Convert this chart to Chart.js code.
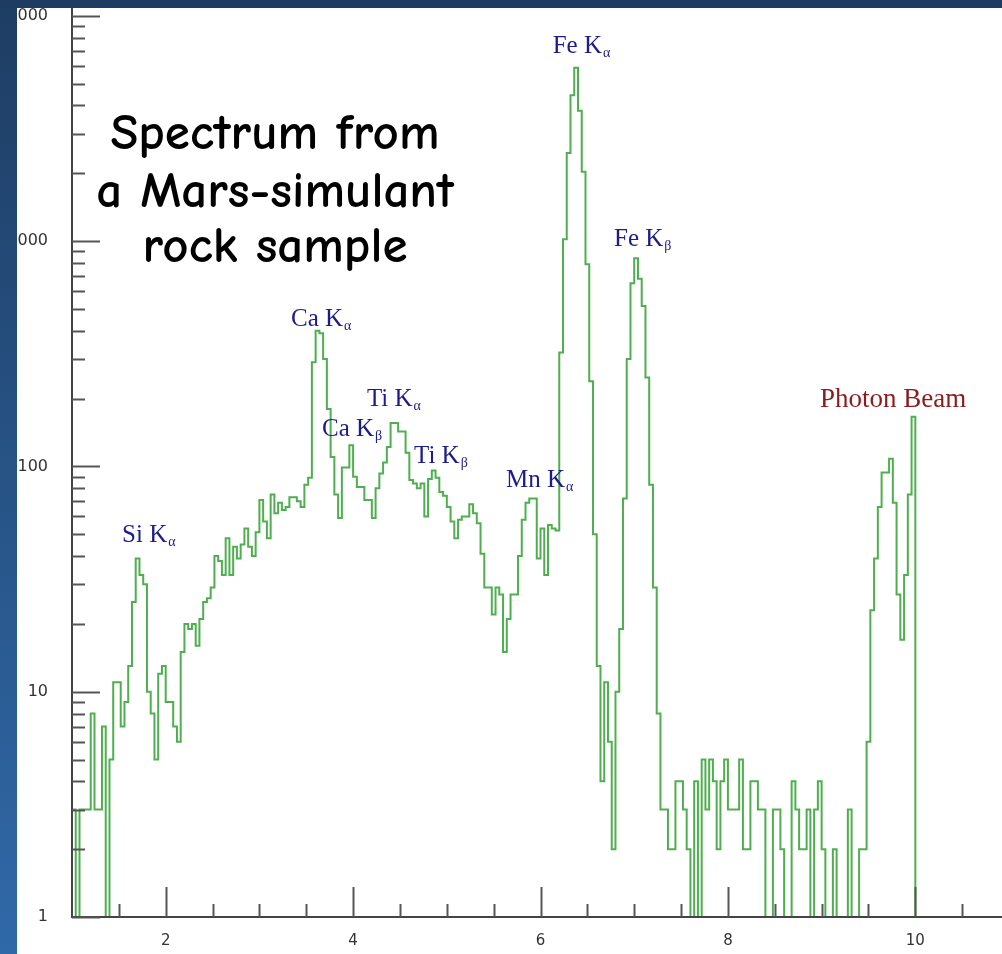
<!DOCTYPE html>
<html>
<head>
<meta charset="utf-8">
<script src="https://cdn.jsdelivr.net/npm/chart.js@4.4.1/dist/chart.umd.min.js"></script>
<style>
  html, body { margin: 0; padding: 0; background: #fff; }
  #wrap { position: relative; width: 1002px; height: 954px; }
</style>
</head>
<body>
<div id="wrap"><canvas id="spectrum" width="1002" height="954"></canvas></div>
<script>
// histogram: counts per 0.04 keV bin starting at 1.00 keV
const energyStart = 1.0;
const binWidth = 0.04;
const counts = [
  3, 0, 3, 3, 3, 8, 3, 3, 7, 0,
  5, 11, 11, 7, 9, 13, 25, 39, 33, 30,
  10, 8, 5, 12, 13, 9, 9, 7, 6, 15,
  20, 19, 20, 16, 21, 25, 26, 29, 40, 38,
  33, 48, 33, 44, 39, 45, 53, 44, 40, 51,
  71, 57, 48, 75, 62, 69, 64, 66, 73, 73,
  70, 66, 83, 89, 290, 400, 390, 300, 180, 110,
  75, 59, 99, 99, 124, 90, 81, 81, 71, 71,
  59, 80, 93, 104, 122, 156, 156, 143, 143, 115,
  87, 84, 80, 84, 60, 88, 96, 89, 77, 74,
  66, 57, 48, 58, 60, 60, 68, 62, 56, 41,
  29, 29, 22, 29, 27, 15, 21, 27, 27, 40,
  58, 69, 72, 72, 39, 53, 33, 55, 53, 52,
  320, 1020, 2460, 4440, 5880, 3790, 2030, 790, 239, 50,
  13, 4, 11, 6, 2, 10, 19, 72, 300, 650,
  840, 680, 515, 248, 83, 29, 8, 3, 3, 2,
  2, 4, 4, 3, 2, 0, 4, 0, 5, 3,
  5, 4, 2, 4, 5, 3, 3, 3, 5, 2,
  2, 4, 4, 3, 3, 0, 0, 3, 3, 2,
  0, 0, 4, 3, 2, 2, 3, 0, 3, 4,
  2, 0, 0, 2, 0, 0, 0, 3, 0, 0,
  2, 2, 6, 23, 39, 66, 94, 94, 108, 69,
  27, 17, 33, 75, 166
];

const xMajorTicks = [2, 4, 6, 8, 10];
const yDecades = [1, 10, 100, 1000, 10000];

// peak annotations, placed in data coordinates (keV, counts)
const peakNames = ['Fe K', 'Fe K', 'Ca K', 'Ti K', 'Ca K', 'Ti K', 'Mn K', 'Si K', 'Photon Beam'];
const peakSubs  = ['α', 'β', 'α', 'α', 'β', 'β', 'α', 'α', ''];
const peakX     = [6.13, 6.785, 3.337, 4.148, 3.668, 4.65, 5.632, 1.534, 8.983];
const peakY     = [7300, 1020, 449, 198, 146, 111, 87, 49.5, 198];

const titleLines = ['Spectrum from', 'a Mars-simulant', 'rock sample'];
const titleX = 3.166;
const titleY = [2958, 1635, 932];

const points = counts.map((c, i) => ({ x: energyStart + i * binWidth, y: c > 0 ? c : 0.5 }));
points.push({ x: energyStart + counts.length * binWidth, y: 0.5 });

const xTickValues = [];
for (let v = 1.0; v <= 10.5; v += 0.5) xTickValues.push(v);
const yTickValues = [];
yDecades.forEach(d => { for (let k = 1; k <= 9; k++) { if (d * k <= 10000) yTickValues.push(d * k); } });

const framePlugin = {
  id: 'frame',
  afterDatasetsDraw(chart) {
    const { ctx, chartArea: a, scales: { x, y } } = chart;
    ctx.save();
    // axis lines
    ctx.strokeStyle = '#444';
    ctx.lineWidth = 2;
    ctx.beginPath();
    ctx.moveTo(a.left, 0);
    ctx.lineTo(a.left, a.bottom);
    ctx.lineTo(chart.width, a.bottom);
    ctx.stroke();

    // tick marks pointing into the plot
    ctx.strokeStyle = '#555';
    y.ticks.forEach(t => {
      const py = Math.round(y.getPixelForValue(t.value)) + 0.5;
      const len = yDecades.includes(t.value) ? 28 : 13;
      ctx.beginPath();
      ctx.moveTo(a.left, py);
      ctx.lineTo(a.left + len, py);
      ctx.stroke();
    });
    x.ticks.forEach(t => {
      if (t.value === 1) return;
      const px = Math.round(x.getPixelForValue(t.value)) + 0.5;
      const len = xMajorTicks.includes(t.value) ? 30 : 13;
      ctx.beginPath();
      ctx.moveTo(px, a.bottom);
      ctx.lineTo(px, a.bottom - len);
      ctx.stroke();
    });

    // peak labels
    ctx.textBaseline = 'middle';
    ctx.textAlign = 'left';
    peakNames.forEach((name, i) => {
      const px = x.getPixelForValue(peakX[i]);
      const py = y.getPixelForValue(peakY[i]);
      ctx.fillStyle = peakSubs[i] ? '#1c1c8c' : '#8c1c1c';
      ctx.font = (peakSubs[i] ? '25px' : '27px') + ' "Liberation Serif", "DejaVu Serif", serif';
      ctx.fillText(name, px, py);
      if (peakSubs[i]) {
        const w = ctx.measureText(name).width;
        ctx.font = '14px "Liberation Serif", "DejaVu Serif", serif';
        ctx.fillText(peakSubs[i], px + w + 1, py + 7);
      }
    });

    // caption
    ctx.fillStyle = '#000';
    ctx.textAlign = 'center';
    ctx.font = 'bold 51px "Comic Sans MS", "Comic Neue", "DejaVu Sans", sans-serif';
    titleLines.forEach((line, i) => {
      ctx.fillText(line, x.getPixelForValue(titleX), y.getPixelForValue(titleY[i]));
    });
    ctx.restore();
  },
  afterDraw(chart) {
    const ctx = chart.ctx;
    ctx.save();
    const g = ctx.createLinearGradient(0, 0, 0, chart.height);
    g.addColorStop(0, '#1e3d63');
    g.addColorStop(1, '#3069a8');
    ctx.fillStyle = g;
    ctx.fillRect(0, 0, 17, chart.height);
    ctx.fillStyle = '#1e3c62';
    ctx.fillRect(0, 0, chart.width, 8);
    ctx.restore();
  }
};

new Chart(document.getElementById('spectrum').getContext('2d'), {
  type: 'line',
  data: {
    datasets: [{
      data: points,
      stepped: true,
      borderColor: 'rgba(60, 165, 60, 0.9)',
      borderWidth: 2,
      pointRadius: 0,
      fill: false
    }]
  },
  options: {
    responsive: false,
    animation: false,
    devicePixelRatio: 1,
    layout: { padding: 0 },
    plugins: { legend: { display: false }, tooltip: { enabled: false } },
    scales: {
      x: {
        type: 'linear',
        min: 1,
        max: 10.925,
        grid: { display: false, drawTicks: false },
        border: { display: false },
        afterBuildTicks: s => { s.ticks = xTickValues.map(v => ({ value: v })); },
        afterFit: s => { s.height = 37; s.paddingLeft = 0; s.paddingRight = 0; },
        ticks: {
          autoSkip: false,
          maxRotation: 0,
          padding: 15,
          color: '#333',
          font: { family: 'DejaVu Sans', size: 15 },
          callback: v => xMajorTicks.includes(v) ? String(v) : ''
        }
      },
      y: {
        type: 'logarithmic',
        min: 1,
        max: 10830,
        grid: { display: false, drawTicks: false },
        border: { display: false },
        afterBuildTicks: s => { s.ticks = yTickValues.map(v => ({ value: v })); },
        afterFit: s => { s.width = 72; s.paddingTop = 8; s.paddingBottom = 0; },
        ticks: {
          autoSkip: false,
          padding: 24,
          color: '#333',
          font: { family: 'DejaVu Sans', size: 16 },
          callback: v => yDecades.includes(v) ? String(v) : ''
        }
      }
    }
  },
  plugins: [framePlugin]
});
</script>
</body>
</html>
